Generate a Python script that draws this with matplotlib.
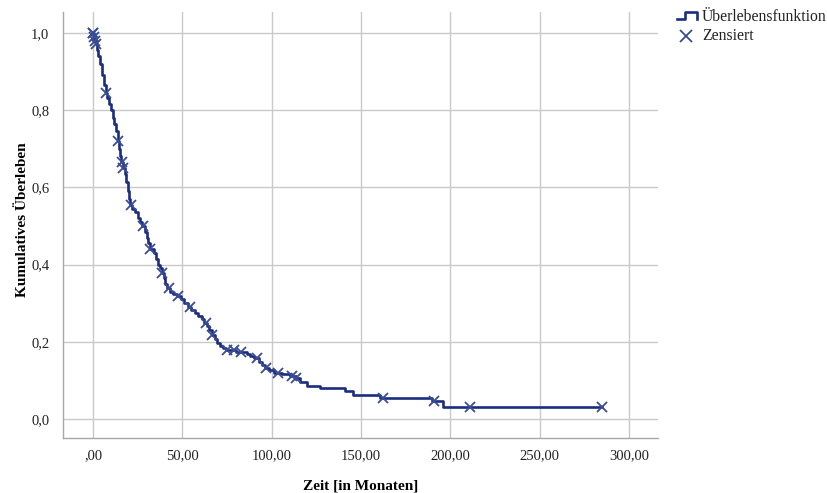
import numpy as np
import matplotlib
matplotlib.use("Agg")
import matplotlib.pyplot as plt
from matplotlib.lines import Line2D

# ---- data ----
event_times = [0.3, 0.8, 1.5, 2.2, 3, 4, 5, 6, 7, 8, 9, 10, 11, 12, 13, 13.8, 14.5, 15, 15.5,
               16.5, 17.8, 18.5, 19.3, 20, 20.8, 22, 23.5, 25, 26.5, 27.5, 29, 30, 31, 31.8,
               34, 35.5, 36.5, 37.5, 38.5, 39.5, 40.5, 41.5, 43, 45, 47, 49, 51, 53, 55, 57,
               59, 61, 62, 63.5, 65, 66.5, 68, 69.5, 71, 72.5, 74.5, 80, 86, 88, 90, 93, 94.5,
               96, 98.5, 101, 106, 110, 113.5, 116, 120, 127, 141, 145.5, 160.6, 189.5, 196]
survival = [0.99, 0.98, 0.97, 0.955, 0.94, 0.92, 0.89, 0.865, 0.845, 0.83, 0.815, 0.80, 0.78,
            0.765, 0.745, 0.72, 0.70, 0.68, 0.665, 0.65, 0.635, 0.615, 0.59, 0.57, 0.555,
            0.545, 0.535, 0.52, 0.51, 0.50, 0.485, 0.47, 0.455, 0.44, 0.43, 0.415, 0.40,
            0.39, 0.378, 0.365, 0.35, 0.34, 0.33, 0.325, 0.318, 0.31, 0.30, 0.29, 0.282,
            0.275, 0.268, 0.258, 0.248, 0.24, 0.23, 0.218, 0.208, 0.198, 0.19, 0.183, 0.178,
            0.174, 0.168, 0.162, 0.157, 0.148, 0.14, 0.133, 0.126, 0.12, 0.116, 0.112, 0.107,
            0.096, 0.086, 0.080, 0.073, 0.063, 0.054, 0.047, 0.030]
censor_times = [0, 0.1, 0.5, 1.1, 1.8, 7.3, 14, 16, 17, 21.5, 28, 32, 38.6, 42.5, 47.5, 54.3,
                63, 66.5, 75, 79, 83, 92, 97, 103.5, 111.5, 113.5, 162.3, 190.8, 211, 285]
end_time = 285
x_ticks = [0, 50, 100, 150, 200, 250, 300]
x_ticklabels = [",00", "50,00", "100,00", "150,00", "200,00", "250,00", "300,00"]
y_ticks = [0.0, 0.2, 0.4, 0.6, 0.8, 1.0]
y_ticklabels = ["0,0", "0,2", "0,4", "0,6", "0,8", "1,0"]

# ---- build step function ----
t_all = np.concatenate([[0.0], event_times, [end_time]])
s_all = np.concatenate([[1.0], survival, [survival[-1]]])

def surv_at(t):
    idx = np.searchsorted(np.array(event_times), t, side="right")
    return 1.0 if idx == 0 else survival[idx - 1]

censor_y = [surv_at(t) for t in censor_times]

plt.rcParams["font.family"] = ["Liberation Serif", "DejaVu Serif"]
line_color = "#1b2d7f"
marker_color = "#3a4c95"
grid_color = "#c9c9c9"

fig = plt.figure(figsize=(8.27, 4.93), dpi=100)
ax = fig.add_axes([0.0762, 0.1116, 0.7195, 0.8641])

ax.step(t_all, s_all, where="post", color=line_color, lw=1.9, zorder=3)
ax.plot(censor_times, censor_y, linestyle="none", marker="x", markersize=7,
        markeredgewidth=1.3, color=marker_color, zorder=4)

ax.set_xlim(-16.8, 316.2)
ax.set_ylim(-0.049, 1.054)
ax.set_xticks(x_ticks)
ax.set_xticklabels(x_ticklabels)
ax.set_yticks(y_ticks)
ax.set_yticklabels(y_ticklabels)
ax.tick_params(axis="x", length=0, labelsize=10.5, colors="#222222", pad=8)
ax.tick_params(axis="y", length=0, labelsize=10.5, colors="#222222", pad=10)
ax.grid(True, color=grid_color, lw=1.0, zorder=0)
ax.set_axisbelow(True)
for s in ["top", "right"]:
    ax.spines[s].set_visible(False)
for s in ["left", "bottom"]:
    ax.spines[s].set_color("#a8a8a8")
    ax.spines[s].set_linewidth(1.0)

ax.set_xlabel("Zeit [in Monaten]", fontsize=11, fontweight="bold")
ax.set_ylabel("Kumulatives Überleben", fontsize=11, fontweight="bold")
ax.xaxis.set_label_coords(0.5, -0.098)
ax.yaxis.set_label_coords(-0.058, 0.512)

# ---- legend (manual, outside the axes) ----
W, H = 827.0, 493.0
def fx(px):
    return px / W
def fy(py):
    return 1 - py / H
fig.add_artist(Line2D([fx(677), fx(685), fx(685), fx(697), fx(697)],
                      [fy(19), fy(19), fy(12), fy(12), fy(19)],
                      color=line_color, lw=1.9, transform=fig.transFigure))
fig.add_artist(Line2D([fx(686)], [fy(36)], marker="x", markersize=9, markeredgewidth=1.3,
                      color=marker_color, linestyle="none", transform=fig.transFigure))
fig.text(fx(702), fy(17), "Überlebensfunktion", fontsize=11.3, va="center", ha="left",
         color="#222222")
fig.text(fx(702), fy(36), "Zensiert", fontsize=11.3, va="center", ha="left", color="#222222")

fig.savefig("out.png", dpi=100)
